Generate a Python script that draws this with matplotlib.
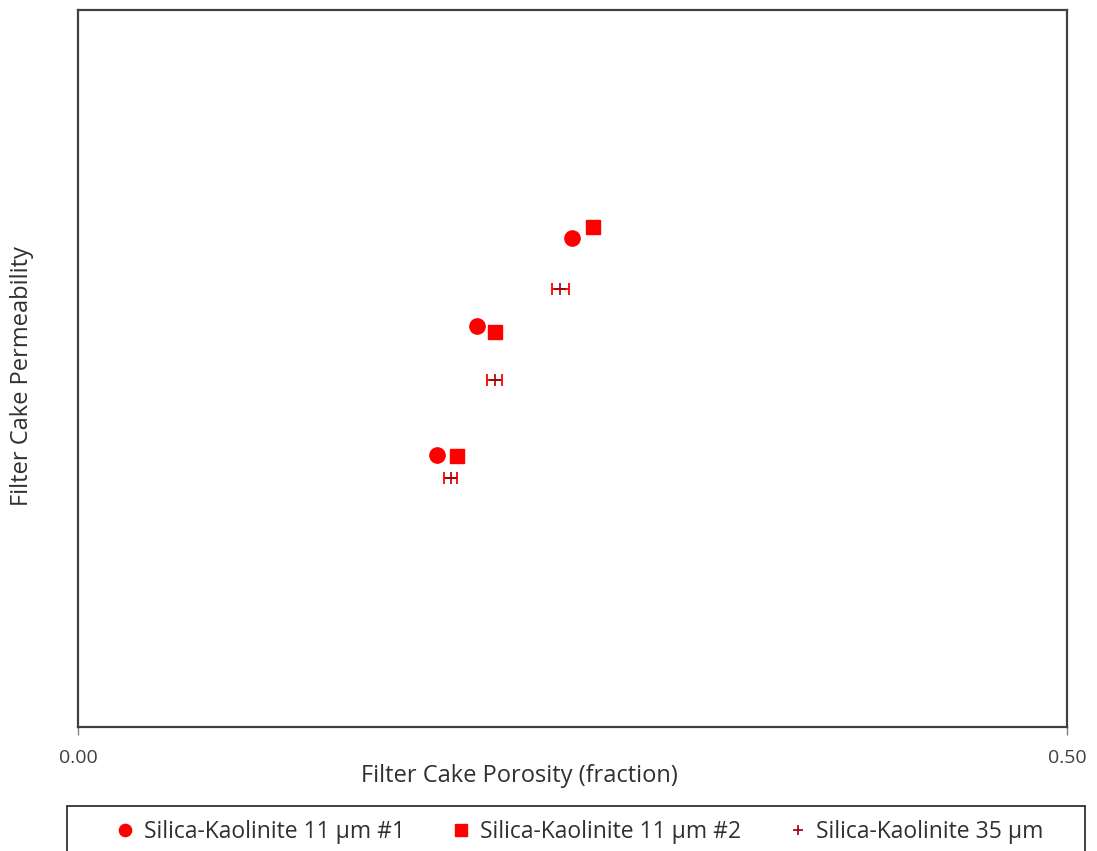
import matplotlib
matplotlib.use('Agg')
import matplotlib.pyplot as plt
from matplotlib.patches import Rectangle

plt.rcParams['font.family'] = ['Open Sans', 'DejaVu Sans']

# porosity (fraction) and permeability (arbitrary, no y scale shown)
por_11_1 = [0.2495, 0.2015, 0.1813]
perm_11_1 = [0.682, 0.559, 0.379]

por_11_2 = [0.2606, 0.2106, 0.1914]
perm_11_2 = [0.697, 0.551, 0.378]

por_35 = [0.2439, 0.2106, 0.1884]
perm_35 = [0.611, 0.484, 0.347]
por_35_err = [0.0043, 0.0040, 0.0034]

labels = ['Silica-Kaolinite 11 \u00b5m #1',
          'Silica-Kaolinite 11 \u00b5m #2',
          'Silica-Kaolinite 35 \u00b5m']


def main():
    W, H = 1097, 851
    fig = plt.figure(figsize=(W / 100, H / 100), dpi=100)
    ax = fig.add_axes([0.0711, 0.1457, 0.9016, 0.8426])

    h1, = ax.plot(por_11_1, perm_11_1, 'o', color='red', markersize=11,
                  linestyle='none')
    h2, = ax.plot(por_11_2, perm_11_2, 's', color='red', markersize=10.5,
                  linestyle='none')
    ax.errorbar(por_35, perm_35, xerr=por_35_err, fmt='none',
                ecolor='red', elinewidth=1.3, capsize=4, capthick=1.3)
    h3, = ax.plot(por_35, perm_35, '+', color='#a00000', markersize=9,
                  markeredgewidth=1.2, linestyle='none')

    ax.set_xlim(0, 0.5)
    ax.set_ylim(0, 1)
    ax.set_xticks([0.0, 0.5])
    ax.set_xticklabels(['0.00', '0.50'])
    ax.set_yticks([])
    ax.tick_params(axis='x', direction='out', length=6, width=1,
                   color='#808080', labelsize=14, labelcolor='#404040',
                   pad=10)

    for sp in ax.spines.values():
        sp.set_color('#404040')
        sp.set_linewidth(1.6)

    ax.set_xlabel('Filter Cake Porosity (fraction)', fontsize=17,
                  color='#303030')
    ax.xaxis.set_label_coords((520 - 78) / 990, -0.052)
    ax.set_ylabel('Filter Cake Permeability', fontsize=17, color='#303030')
    ax.yaxis.set_label_coords(-0.044, 0.49)

    # legend frame drawn separately, runs off the bottom edge like the original
    frame = Rectangle((67 / W, -0.05), (1085 - 67) / W, 1 - 806 / H + 0.05,
                      transform=fig.transFigure, fill=False,
                      edgecolor='#202020', linewidth=1.2)
    fig.patches.append(frame)

    x0 = 100 / W
    w = (1057 - 100) / W
    fig.legend([h1, h2, h3], labels, loc='upper left',
               bbox_to_anchor=(x0, 1 - 806 / H - 0.1, w, 0.1),
               mode='expand', ncol=3, fontsize=16.5, frameon=False,
               borderpad=0.6, borderaxespad=0, columnspacing=2.0,
               handletextpad=0.3, handlelength=1.0, markerscale=0.8,
               labelcolor='#303030')

    fig.savefig('out.png', dpi=100)


if __name__ == '__main__':
    main()
